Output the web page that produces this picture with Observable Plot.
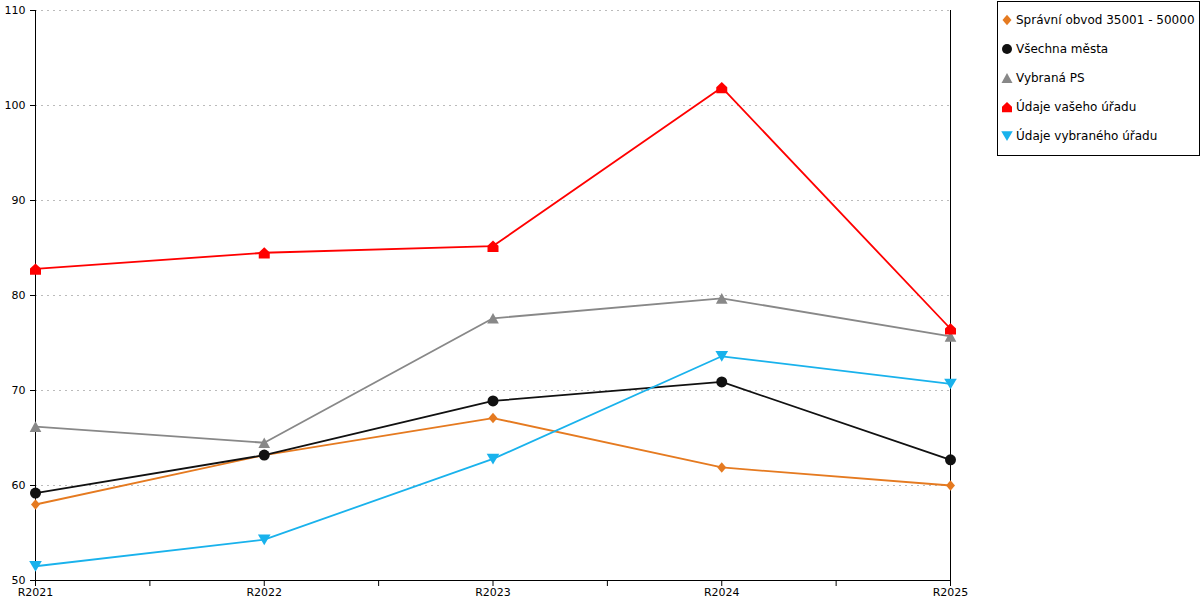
<!DOCTYPE html>
<html><head><meta charset="utf-8">
<script src="https://cdn.jsdelivr.net/npm/d3@7"></script>
<script src="https://cdn.jsdelivr.net/npm/@observablehq/plot@0.6"></script>
<style>
body{margin:0;background:#fff;font-family:"DejaVu Sans",sans-serif;}
#wrap{position:relative;width:1200px;height:600px;}
#legend{position:absolute;left:997px;top:1px;width:203px;height:155px;border:1px solid #000;background:#fff;box-sizing:border-box;}
.row{position:absolute;left:0;height:20px;display:flex;align-items:center;font-size:12px;color:#000;white-space:nowrap;}
.row svg{margin-left:3px;margin-right:3px;}
</style>
</head><body><div id="wrap"></div>
<script>
const categories = ["R2021","R2022","R2023","R2024","R2025"];
const seriesNames = ["Správní obvod 35001 - 50000","Všechna města","Vybraná PS","Údaje vašeho úřadu","Údaje vybraného úřadu"];
const spravniObvod = [58.0, 63.2, 67.1, 61.9, 60.0];
const vsechnaMesta = [59.2, 63.2, 68.9, 70.9, 62.7];
const vybranaPS = [66.2, 64.5, 77.6, 79.7, 75.7];
const vasUrad = [82.8, 84.5, 85.2, 101.9, 76.5];
const vybranyUrad = [51.5, 54.3, 62.8, 73.6, 70.7];
const yTicks = [50, 60, 70, 80, 90, 100, 110];

const colors = ["#E57A20", "#111111", "#888888", "#FF0000", "#19B2EC"];

function hOf(size){ return Math.sqrt(size/Math.PI); }
const symDiamond = {draw(c,size){const h=hOf(size); c.moveTo(0,-h*1.05); c.lineTo(h*0.9,0); c.lineTo(0,h*1.05); c.lineTo(-h*0.9,0); c.closePath();}};
const symCircle = {draw(c,size){const h=hOf(size); c.moveTo(h,0); c.arc(0,0,h,0,2*Math.PI); c.closePath();}};
const symUp = {draw(c,size){const h=hOf(size); c.moveTo(0,-h); c.lineTo(h*1.1,h*1.0); c.lineTo(-h*1.1,h*1.0); c.closePath();}};
const symDown = {draw(c,size){const h=hOf(size); c.moveTo(0,h*1.0); c.lineTo(h*1.15,-h*0.95); c.lineTo(-h*1.15,-h*0.95); c.closePath();}};
const symHouse = {draw(c,size){const h=hOf(size); c.moveTo(0,-h*1.0); c.lineTo(h*1.0,-h*0.05); c.lineTo(h*1.0,h*1.05); c.lineTo(-h*1.0,h*1.05); c.lineTo(-h*1.0,-h*0.05); c.closePath();}};
const symbols = [symDiamond, symCircle, symUp, symHouse, symDown];
const radii = [5, 5.5, 5.3, 5.5, 5.5];

const allSeries = [spravniObvod, vsechnaMesta, vybranaPS, vasUrad, vybranyUrad];
const data = [];
allSeries.forEach((vals, si) => vals.forEach((v, i) => data.push({series: seriesNames[si], si, xi: i, cat: categories[i], value: v})));

const xTicks = d3.range(0, categories.length - 0.99, 0.5);

const marks = [
  Plot.gridY(yTicks.slice(1), {stroke: "#bbb", strokeOpacity: 1, strokeDasharray: "2,4"}),
  Plot.axisY(yTicks, {tickSize: 5, tickPadding: 5, fontSize: 11, label: null, stroke: "#000"}),
  Plot.axisX(xTicks, {tickSize: 6, tickPadding: 2, fontSize: 11, label: null, tickFormat: d => Number.isInteger(d) ? categories[d] : ""}),
  Plot.ruleX([0], {stroke: "#000"}),
  Plot.ruleX([categories.length - 1], {stroke: "#000"}),
  Plot.ruleY([50], {stroke: "#000"})
];
seriesNames.forEach((name, si) => {
  const d = data.filter(r => r.si === si);
  marks.push(Plot.line(d, {x: "xi", y: "value", stroke: colors[si], strokeWidth: 1.8}));
});
seriesNames.forEach((name, si) => {
  const d = data.filter(r => r.si === si);
  marks.push(Plot.dot(d, {x: "xi", y: "value", fill: colors[si], stroke: "none", symbol: symbols[si], r: radii[si]}));
});

const chart = Plot.plot({
  width: 1200, height: 600,
  marginLeft: 35, marginRight: 250, marginTop: 10, marginBottom: 20,
  style: {fontFamily: "DejaVu Sans, sans-serif", fontSize: "11px", color: "#000", background: "#fff"},
  x: {type: "linear", domain: [0, categories.length - 1], axis: null},
  y: {domain: [50, 110], axis: null},
  marks
});
const wrap = document.getElementById("wrap");
wrap.appendChild(chart);

const legend = document.createElement("div");
legend.id = "legend";
seriesNames.forEach((name, si) => {
  const row = document.createElement("div");
  row.className = "row";
  row.style.top = (8 + si * 29) + "px";
  const p = d3.path();
  symbols[si].draw(p, Math.PI * 25);
  row.innerHTML = `<svg width="12" height="14" viewBox="-6 -7 12 14"><path d="${p.toString()}" fill="${colors[si]}"/></svg><span>${name}</span>`;
  legend.appendChild(row);
});
wrap.appendChild(legend);
</script>
</body></html>
